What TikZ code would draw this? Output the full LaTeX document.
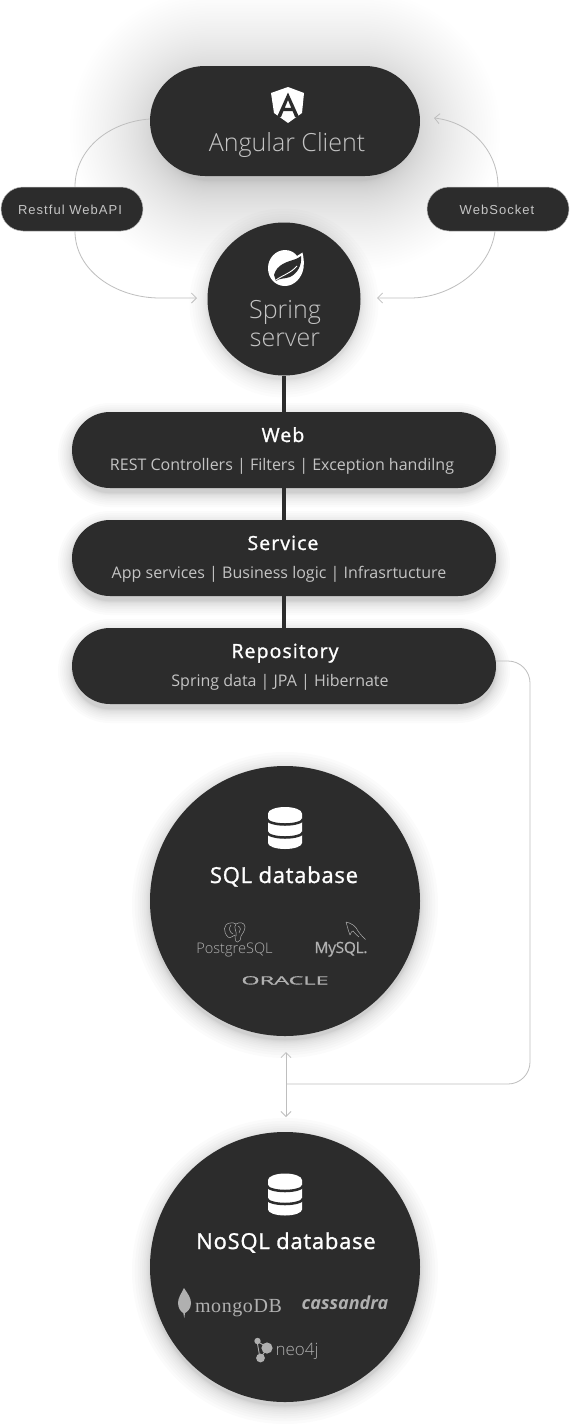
\documentclass[tikz,border=0pt]{standalone}
\usepackage{fontspec}
\setmainfont{Open Sans}
\newfontfamily\lightf{Open Sans Light}
\newfontfamily\semif[LetterSpace=3.4,FakeBold=1.2]{Open Sans}
\newfontfamily\headf[LetterSpace=5.5,FakeBold=1.2]{Open Sans}
\newfontfamily\chipf[LetterSpace=8]{Liberation Sans}
\newfontfamily\mongof[LetterSpace=3]{Liberation Serif}
\newfontfamily\myf[LetterSpace=-2,FakeBold=.6]{Open Sans}
\newfontfamily\oraf[FakeBold=.7]{Open Sans}
\usetikzlibrary{arrows.meta}
\definecolor{panel}{HTML}{2C2C2C}
\definecolor{soft}{HTML}{C4C4C4}
\definecolor{logo}{HTML}{B0B0B0}
\definecolor{wire}{HTML}{BEBEBE}
\tikzset{
  panelbox/.style={fill=panel,draw=none,inner sep=0pt,minimum height=#1,rounded corners=#1/2},
  disc/.style={circle,fill=panel,draw=none,inner sep=0pt,minimum size=#1},
  chipbox/.style={fill=panel,draw=black!25,line width=.5pt,inner sep=0pt,minimum width=142pt,minimum height=44pt,rounded corners=22pt},
  wirel/.style={draw=wire,line width=.8pt},
  tipped/.style={wirel,-{Straight Barb[length=5pt,width=10pt,line width=.8pt]}},
  bar/.style={draw=panel,line width=3.6pt},
  txt/.style={anchor=base,inner sep=0pt,outer sep=0pt},
  big/.style={txt,text=soft,font=\lightf\fontsize{25}{30}\selectfont},
  head/.style={txt,text=white,font=\headf\fontsize{19.5}{22}\selectfont},
  sub/.style={txt,text=soft,font=\fontsize{16}{20}\selectfont},
  dbhead/.style={txt,text=white,font=\semif\fontsize{22}{26}\selectfont},
  chiptxt/.style={txt,text=soft,font=\chipf\fontsize{13}{15}\selectfont},
  ink/.style={draw=logo,line width=.5pt,fill=none},
}
\newcommand{\softshadow}[8]{%
  \foreach \k in {1,...,#7}{%
    \pgfmathsetmacro\ee{#6*pow((#7-\k+1)/#7,2)}%
    \pgfmathsetmacro\rr{min(#3,#4)/2+\ee}%
    \pgfmathsetmacro\xa{#1-#3/2-\ee}\pgfmathsetmacro\xb{#1+#3/2+\ee}%
    \pgfmathsetmacro\ya{#2+#5-#4/2-\ee}\pgfmathsetmacro\yb{#2+#5+#4/2+\ee}%
    \fill[black,opacity=#8,rounded corners=\rr pt] (\xa,\ya) rectangle (\xb,\yb);
  }%
}
\newcommand{\dbicon}[2]{%
  \begin{scope}[shift={(#1,#2)}]
    \fill[white] (-17,-14.5) arc[start angle=180,end angle=360,x radius=17,y radius=6.5]
      -- (17,15) arc[start angle=0,end angle=180,x radius=17,y radius=6] -- cycle;
    \draw[panel,line width=2.5pt] (-18,-9) arc[start angle=180,end angle=0,x radius=18,y radius=5.5];
    \draw[panel,line width=2.5pt] (-18,4) arc[start angle=180,end angle=0,x radius=18,y radius=5.5];
  \end{scope}%
}
\begin{document}
\begin{tikzpicture}[x=1pt,y=-1pt]
\useasboundingbox (0,0) rectangle (570,1424);
\fill[white] (0,0) rectangle (570,1424);
% soft shadows
\softshadow{285}{121}{250}{100}{10}{90}{60}{0.0036}
\softshadow{284}{299}{153}{153}{4}{18}{12}{0.013}
\softshadow{284}{450}{424}{76}{5}{14}{12}{0.014}
\softshadow{284}{558}{424}{76}{5}{14}{12}{0.014}
\softshadow{284}{666}{424}{76}{5}{14}{12}{0.014}
\softshadow{285}{901}{270}{270}{4}{18}{12}{0.014}
\softshadow{285}{1267}{270}{270}{4}{18}{12}{0.014}
% panels
\node[panelbox=110pt,minimum width=270pt] (angular) at (285,121) {};
\node[disc=153pt] (spring) at (284,299) {};
\node[panelbox=76pt,minimum width=424pt] (web) at (284,450) {};
\node[panelbox=76pt,minimum width=424pt] (service) at (284,558) {};
\node[panelbox=76pt,minimum width=424pt] (repo) at (284,666) {};
\node[disc=270pt] (sql) at (285,901) {};
\node[disc=270pt] (nosql) at (285,1267) {};
\node[chipbox] (rest) at (72,209) {};
\node[chipbox] (socket) at (498,209) {};
% free ends
\coordinate (springleft) at (197,298);
\coordinate (springright) at (377,298);
\coordinate (clientright) at (434,118);
\coordinate (dbtop) at (286,1052);
\coordinate (dbbottom) at (286,1117);
\coordinate (dbjoin) at (286,1084);
% connectors
\draw[bar] (spring.south) -- (web.north);
\draw[bar] (web.south) -- (service.north);
\draw[bar] (service.south) -- (repo.north);
\draw[wirel] ([yshift=2pt]angular.west) .. controls (108,122) and (75,150) .. ([xshift=3pt]rest.north);
\draw[tipped] ([xshift=3pt]rest.south) .. controls (75,270) and (115,298) .. (160,298) -- (springleft);
\draw[tipped] (socket.north) .. controls (498,150) and (470,122) .. (clientright);
\draw[tipped] ([xshift=-3pt]socket.south) .. controls (490,270) and (450,298) .. (410,298) -- (springright);
\draw[wirel,rounded corners=22pt] ([yshift=5pt]repo.east) -| (530,1084) -- (dbjoin);
\draw[wirel,{Straight Barb[length=5pt,width=10pt,line width=.8pt]}-{Straight Barb[length=5pt,width=10pt,line width=.8pt]}] (dbtop) -- (dbbottom);
% chip and panel text
\node[chiptxt] (resttxt) at (70,214) {Restful WebAPI};
\node[chiptxt] (sockettxt) at (497,214) {WebSocket};
\node[big] (clienttxt) at (287,151) {Angular Client};
\node[big] (springtxt) at (285,318) {Spring};
\node[big] (servertxt) at (285,346) {server};
\node[head] (webtxt) at (283,442) {Web};
\node[sub] (websub) at (282,470) {REST Controllers | Filters | Exception handilng};
\node[head] (servicetxt) at (283,550) {Service};
\node[sub] (servicesub) at (279,578) {App services | Business logic | Infrasrtucture};
\node[head] (repotxt) at (285,658) {Repository};
\node[sub] (reposub) at (280,686) {Spring data | JPA | Hibernate};
\node[dbhead] (sqltxt) at (284,883) {SQL database};
\node[dbhead] (nosqltxt) at (286,1249) {NoSQL database};
% Angular icon
\fill[white] (288,87) -- (304,93) -- (302,113) -- (288,123) -- (274,113) -- (271,93) -- cycle;
\fill[panel,even odd rule] (288,92.5) -- (299,117) -- (295,117) -- (292.6,111) -- (283.4,111) -- (281,117) -- (277,117) -- cycle
  (284.8,107.8) -- (291.2,107.8) -- (288,100) -- cycle;
% Spring icon
\fill[white] (302.5,252.5) .. controls (304,259) and (304,263) .. (303.5,268)
  .. controls (302,278) and (294,286) .. (285,286) .. controls (275,286) and (268,278) .. (268,268)
  .. controls (268,258) and (276,250) .. (285,250) .. controls (291,250) and (295,253) .. (297,256) -- cycle;
\fill[panel] (274,275) .. controls (277,264) and (287,262) .. (296,259) .. controls (298,258) and (300,257) .. (301,256)
  .. controls (302,265) and (298,273) .. (290,277) .. controls (285,279) and (279,278) .. (276,281) -- cycle;
\draw[white,line width=.9pt] (276,280) .. controls (283,275) and (291,273) .. (297,266);
% database icons
\dbicon{285}{828}
\dbicon{285}{1194.5}
% PostgreSQL logo
\draw[ink] (228,937) .. controls (223,932) and (223,924) .. (230,923) .. controls (232,922.5) and (235,923) .. (236,924)
  .. controls (239,922) and (245,922) .. (245,927) .. controls (245,931) and (242,934) .. (241,936) .. controls (241,939) and (240,942) .. (237.5,942)
  .. controls (235,942) and (235,938) .. (235,935) .. controls (232,936) and (230,939) .. (228,937) -- cycle;
\draw[ink] (231,925) .. controls (228,928) and (230,933) .. (233,934) (236,924) .. controls (233,928) and (237,930) .. (236,936) (238,926) .. controls (241,927) and (241,931) .. (239,933);
\node[txt,text=logo,font=\lightf\fontsize{14.6}{15}\selectfont] (pgtxt) at (234.5,953) {PostgreSQL};
% MySQL logo
\draw[ink] (346,922) .. controls (351,923) and (356,926) .. (358,931) .. controls (360,934) and (363,937) .. (365.5,939.5)
  (346,922) .. controls (347,925) and (348,930) .. (350,935) (350,935) .. controls (351,932) and (352,931) .. (353,931) .. controls (355,933) and (357,936) .. (359,937);
\node[txt,text=logo,font=\myf\fontsize{15.5}{18}\selectfont] (mytxt) at (341,953) {MySQL.};
% Oracle logo
\node[txt,text=logo,font=\oraf\fontsize{11.5}{14}\selectfont,xscale=2.04] (oratxt) at (285,984.5) {ORACLE};
% MongoDB logo
\fill[logo] (184,1288) .. controls (188,1294) and (191,1298) .. (191,1303) .. controls (191,1309) and (187,1312) .. (185,1313) -- (184.3,1318) -- (183.3,1313)
  .. controls (181,1312) and (178,1308) .. (178,1303) .. controls (178,1298) and (181,1294) .. (184,1288) -- cycle;
\node[txt,text=logo,font=\mongof\fontsize{20}{24}\selectfont] (mongotxt) at (238.5,1312) {mongoDB};
% Cassandra logo
\node[txt,text=logo,font=\bfseries\itshape\fontsize{18}{20}\selectfont] (casstxt) at (345,1309) {cassandra};
% Neo4j logo
\draw[logo,line width=.9pt] (257,1341) -- (268,1348) -- (260,1358) -- cycle;
\fill[logo] (257.5,1341) circle[radius=3.2] (267,1348) circle[radius=5.6] (260.5,1358) circle[radius=4.4];
\node[txt,text=logo,font=\lightf\fontsize{17}{22}\selectfont] (neotxt) at (297,1355) {neo4j};
\end{tikzpicture}
\end{document}
